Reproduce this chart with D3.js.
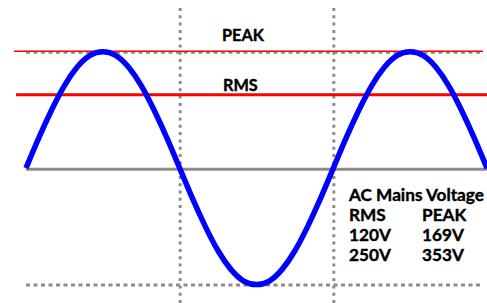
<!DOCTYPE html>
<html>
<head>
<meta charset="utf-8">
<script src="https://cdn.jsdelivr.net/npm/d3@7"></script>
<style>
    body { margin: 0; background: #fff; }
    svg text { font-family: Lato, "Open Sans", sans-serif; font-weight: 700; fill: #000; stroke: #000; stroke-width: 0.4; }
</style>
</head>
<body>
<svg id="chart" width="487" height="303"></svg>
<script>
// wave, one sample every 15 degrees (0..540), normalised to peak = 1
const phaseDeg = [0,15,30,45,60,75,90,105,120,135,150,165,180,195,210,225,240,255,270,
                  285,300,315,330,345,360,375,390,405,420,435,450,465,480,495,510,525,540]
const waveVal = [0,0.26,0.5,0.71,0.87,0.97,1,0.97,0.87,0.71,0.5,0.26,0,-0.26,-0.5,-0.71,-0.87,-0.97,-1,
                 -0.97,-0.87,-0.71,-0.5,-0.26,0,0.26,0.5,0.71,0.87,0.97,1,0.97,0.87,0.71,0.5,0.26,0]
const peakLevel = 1
const rmsLevel = 0.63
const gridDeg = [180, 360]

// legend table
const legendTitle = 'AC Mains Voltage'
const columns = ['RMS', 'PEAK']
const rmsVolts = [120, 250]
const peakVolts = [169, 353]

const svg = d3.select('#chart')

const x = d3.scaleLinear().domain([0, 540]).range([26, 487])
const y = d3.scaleLinear().domain([-1, 1]).range([284.5, 51.8])

const gray = '#8c8c8c'

//Dotted grid
svg.append('g')
    .selectAll('line')
    .data(gridDeg)
    .join('line')
    .attr('x1', d => x(d) + 0.5)
    .attr('x2', d => x(d) + 0.5)
    .attr('y1', 8)
    .attr('y2', 303)
    .attr('stroke', gray)
    .attr('stroke-width', 3)
    .attr('stroke-dasharray', '3,4.3');

svg.append('g')
    .selectAll('line')
    .data([peakLevel, -peakLevel])
    .join('line')
    .attr('x1', x(0))
    .attr('x2', 483)
    .attr('y1', d => y(d) + (d > 0 ? 1 : 0.5))
    .attr('y2', d => y(d) + (d > 0 ? 1 : 0.5))
    .attr('stroke', gray)
    .attr('stroke-width', d => d > 0 ? 2 : 3)
    .attr('stroke-dasharray', '4,3.5');

//Zero line
svg.append('line')
    .attr('x1', x(0)).attr('x2', 487)
    .attr('y1', y(0) + 1).attr('y2', y(0) + 1)
    .attr('stroke', gray)
    .attr('stroke-width', 3);

//Peak and RMS lines
svg.append('line')
    .attr('x1', 14).attr('x2', 483)
    .attr('y1', y(peakLevel) - 0.5).attr('y2', y(peakLevel) - 0.5)
    .attr('stroke', '#ff0000')
    .attr('stroke-width', 1.5);

svg.append('line')
    .attr('x1', 16).attr('x2', 487)
    .attr('y1', y(rmsLevel)).attr('y2', y(rmsLevel))
    .attr('stroke', '#ff0000')
    .attr('stroke-width', 3);

//Sine wave
const line = d3.line()
    .x((d, i) => x(phaseDeg[i]))
    .y(d => y(d))
    .curve(d3.curveNatural);

svg.append('path')
    .datum(waveVal)
    .attr('d', line)
    .attr('fill', 'none')
    .attr('stroke', '#0000ff')
    .attr('stroke-width', 5.5);

//Labels
svg.append('text').attr('x', 222).attr('y', 40.7).attr('font-size', 16.3).text('PEAK');
svg.append('text').attr('x', 223).attr('y', 90.7).attr('font-size', 16.3).text('RMS');

//Legend
const lg = svg.append('g').attr('font-size', 17.2)
lg.append('text').attr('x', 349).attr('y', 200.7).text(legendTitle);
columns.forEach((c, i) => {
    lg.append('text').attr('x', i ? 422 : 349).attr('y', 220.7).text(c);
})
rmsVolts.forEach((v, i) => {
    lg.append('text').attr('x', 349).attr('y', 241 + i * 20).text(v + 'V');
    lg.append('text').attr('x', 422).attr('y', 241 + i * 20).text(peakVolts[i] + 'V');
})
</script>
</body>
</html>
